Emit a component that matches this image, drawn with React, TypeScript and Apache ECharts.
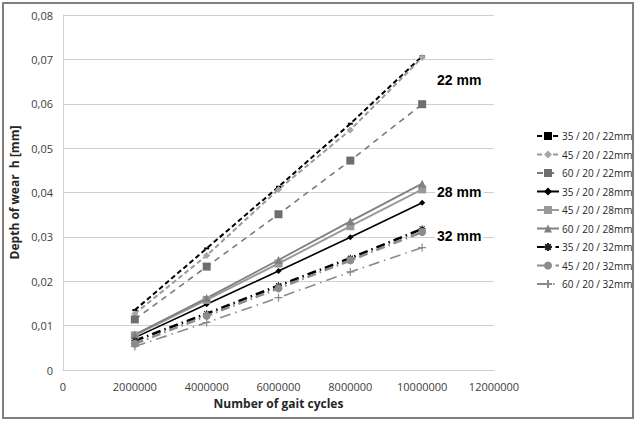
import React, { useEffect, useRef } from "react";
import * as echarts from "echarts";

const cycles = [2000000, 4000000, 6000000, 8000000, 10000000];
const s35_22 = [0.0135, 0.0274, 0.0413, 0.0555, 0.0707];
const s45_22 = [0.0127, 0.0258, 0.0407, 0.0541, 0.0704];
const s60_22 = [0.0114, 0.0233, 0.0351, 0.0472, 0.0599];
const s35_28 = [0.0073, 0.0148, 0.0223, 0.0299, 0.0377];
const s45_28 = [0.0078, 0.0158, 0.024, 0.0324, 0.0407];
const s60_28 = [0.008, 0.0162, 0.0248, 0.0335, 0.042];
const s35_32 = [0.0066, 0.0127, 0.019, 0.0252, 0.0318];
const s45_32 = [0.0059, 0.0122, 0.0184, 0.0247, 0.0311];
const s60_32 = [0.0053, 0.0107, 0.0163, 0.0221, 0.0276];
const seriesNames = [
  "35 / 20 / 22mm",
  "45 / 20 / 22mm",
  "60 / 20 / 22mm",
  "35 / 20 / 28mm",
  "45 / 20 / 28mm",
  "60 / 20 / 28mm",
  "35 / 20 / 32mm",
  "45 / 20 / 32mm",
  "60 / 20 / 32mm",
];
const groupLabels = ["22 mm", "28 mm", "32 mm"];

const ASTERISK = "path://M0,5L10,5M5,0L5,10M1.5,1.5L8.5,8.5M8.5,1.5L1.5,8.5";
const PLUS = "path://M0,5L10,5M5,0L5,10";

export default function App() {
  const ref = useRef<HTMLDivElement>(null);
  useEffect(() => {
    document.body.style.margin = "0";
    const chart = echarts.init(ref.current!, null, { renderer: "svg" });
    const pts = (vals: number[]) => cycles.map((c, i) => [c, vals[i]]);
    const mk = (
      name: string,
      vals: number[],
      color: string,
      width: number,
      dash: any,
      symbol: string,
      size: any,
      symColor: string,
      stroked = false
    ) => ({
      name,
      type: "line",
      data: pts(vals),
      symbol,
      symbolSize: size,
      showSymbol: true,
      lineStyle: { color, width, type: dash },
      itemStyle: stroked
        ? { color: symColor, borderColor: symColor, borderWidth: 1.2 }
        : { color: symColor, borderWidth: 0 },
      z: 3,
    });
    const font = "'Open Sans', sans-serif";
    const labelFont = "bold 14px 'Liberation Sans', Arial, sans-serif";
    chart.setOption({
      animation: false,
      backgroundColor: "#ffffff",
      grid: { left: 63, right: 142, top: 15, bottom: 51, containLabel: false },
      xAxis: {
        type: "value",
        min: 0,
        max: 12000000,
        interval: 2000000,
        name: "Number of gait cycles",
        nameLocation: "middle",
        nameGap: 27,
        nameTextStyle: { fontFamily: font, fontSize: 12, fontWeight: "bold", color: "#262626" },
        axisLine: { show: true, lineStyle: { color: "#d0d0d0", width: 1 } },
        axisTick: { show: false },
        axisLabel: {
          fontFamily: font,
          fontSize: 11,
          color: "#404040",
          margin: 11,
          formatter: (v: number) => String(v),
        },
        splitLine: { show: false },
      },
      yAxis: {
        type: "value",
        min: 0,
        max: 0.08,
        interval: 0.01,
        name: "Depth of wear  h [mm]",
        nameLocation: "middle",
        nameGap: 34,
        nameRotate: 90,
        nameTextStyle: { fontFamily: font, fontSize: 12, fontWeight: "bold", color: "#262626" },
        axisLine: { show: true, lineStyle: { color: "#d0d0d0", width: 1 } },
        axisTick: { show: false },
        axisLabel: {
          fontFamily: font,
          fontSize: 11,
          color: "#404040",
          margin: 10,
          formatter: (v: number) => (v === 0 ? "0" : v.toFixed(2).replace(".", ",")),
        },
        splitLine: { show: true, lineStyle: { color: "#cfcfcf", width: 1 } },
      },
      legend: {
        orient: "vertical",
        left: 531,
        top: 126,
        itemWidth: 22,
        itemHeight: 10,
        itemGap: 8.5,
        textStyle: { fontFamily: font, fontSize: 10, color: "#262626", padding: [0, 0, 0, -2] },
        data: seriesNames,
      },
      series: [
        mk(seriesNames[0], s35_22, "#000000", 2, [5, 3], "rect", [5, 2], "#000000"),
        mk(seriesNames[1], s45_22, "#9a9a9a", 2, [5, 3], "diamond", 7, "#a6a6a6"),
        mk(seriesNames[2], s60_22, "#7a7a7a", 1.6, [6, 5], "rect", 8, "#6e6e6e"),
        mk(seriesNames[3], s35_28, "#000000", 1.6, "solid", "diamond", 6, "#000000"),
        mk(seriesNames[4], s45_28, "#9a9a9a", 2, "solid", "rect", 8, "#999999"),
        mk(seriesNames[5], s60_28, "#808080", 1.8, "solid", "triangle", 8, "#808080"),
        mk(seriesNames[6], s35_32, "#000000", 2.6, [9, 4, 1.5, 4], ASTERISK, 7, "#222222", true),
        mk(seriesNames[7], s45_32, "#8c8c8c", 2.6, [9, 4, 1.5, 4], "circle", 8, "#8c8c8c"),
        mk(seriesNames[8], s60_32, "#8a8a8a", 1.6, [11, 5, 1.5, 5], PLUS, 8, "#8a8a8a", true),
      ],
      graphic: [
        {
          type: "rect",
          shape: { x: 3, y: 3, width: 630, height: 415 },
          style: { fill: "none", stroke: "#7f7f7f", lineWidth: 2 },
          silent: true,
        },
        ...groupLabels.map((t, i) => ({
          type: "text",
          x: 435,
          y: [80, 192, 236][i],
          z: 10,
          style: {
            text: t,
            font: labelFont,
            fill: "#000",
            verticalAlign: "middle",
            backgroundColor: "#ffffff",
            padding: [1, 2],
          },
        })),
      ],
    });
    return () => chart.dispose();
  }, []);
  return <div ref={ref} style={{ width: 636, height: 421 }} />;
}
